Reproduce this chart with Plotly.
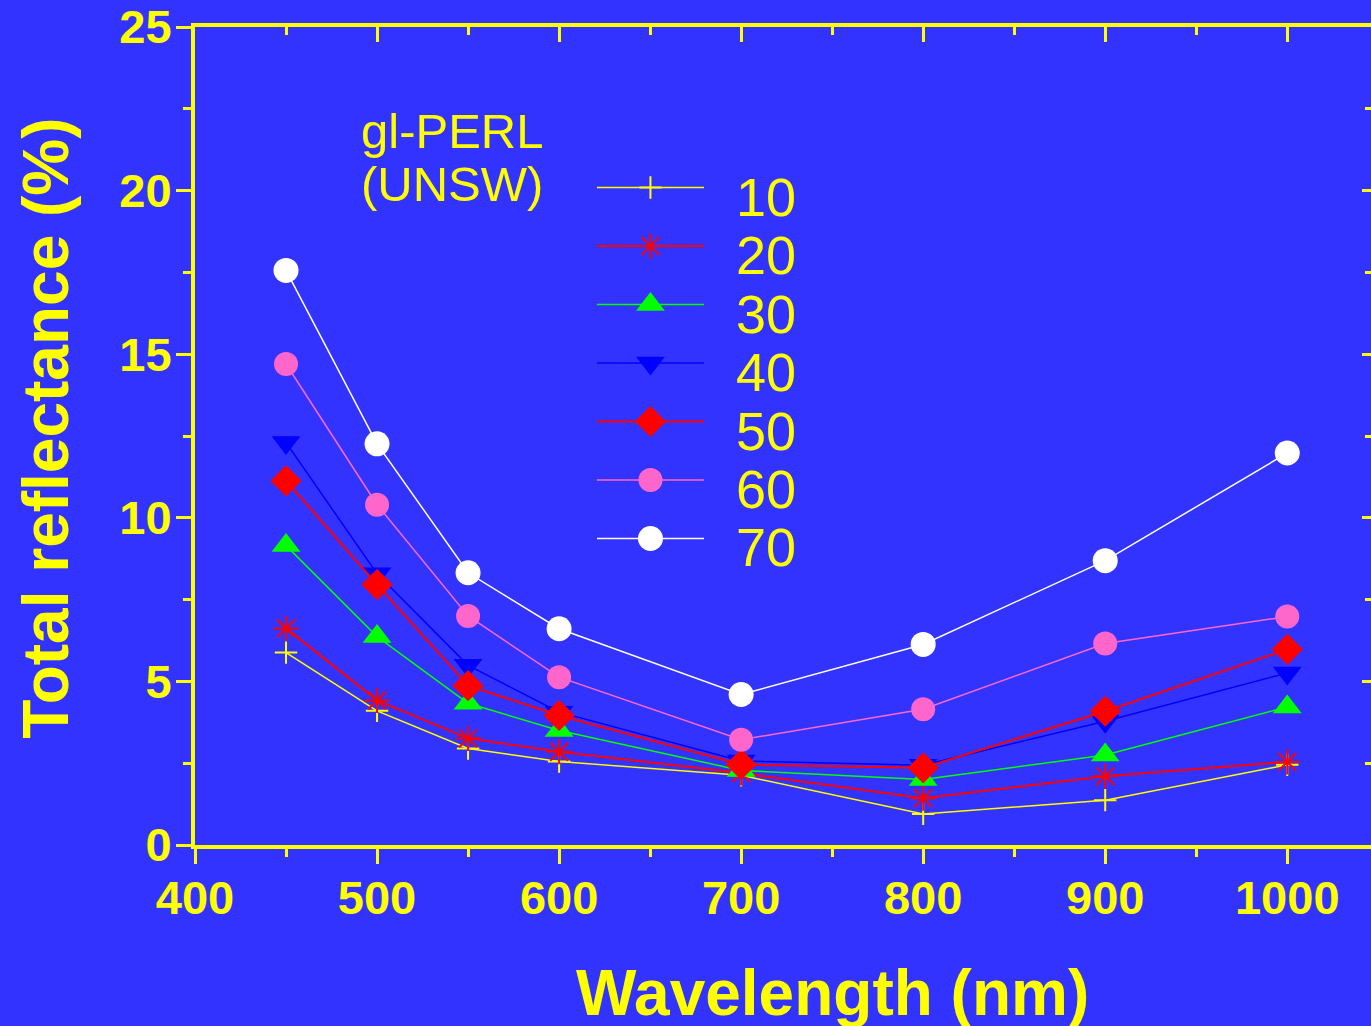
import plotly.graph_objects as go

# ---------------- data ----------------
wavelength = [450, 500, 550, 600, 700, 800, 900, 1000]
r10 = [5.88, 4.10, 2.95, 2.55, 2.13, 0.95, 1.37, 2.45]
r20 = [6.62, 4.42, 3.26, 2.85, 2.20, 1.43, 2.10, 2.54]
r30 = [9.15, 6.37, 4.33, 3.50, 2.28, 2.00, 2.75, 4.22]
r40 = [12.30, 8.29, 5.49, 4.06, 2.57, 2.44, 3.78, 5.26]
r50 = [11.13, 7.96, 4.87, 3.96, 2.46, 2.36, 4.09, 5.98]
r60 = [14.70, 10.40, 7.00, 5.13, 3.22, 4.15, 6.16, 6.98]
r70 = [17.56, 12.26, 8.32, 6.61, 4.60, 6.13, 8.69, 11.98]
series_labels = ["10", "20", "30", "40", "50", "60", "70"]
x_tick_vals = [400, 500, 600, 700, 800, 900, 1000]
y_tick_vals = [0, 5, 10, 15, 20, 25]
legend_title = ["gl-PERL", "(UNSW)"]
x_title = "Wavelength (nm)"
y_title = "Total reflectance (%)"

# ---------------- styles ----------------
BG = "#3333FF"
YEL = "#FFFF00"
FONT = "Liberation Sans"
series = [r10, r20, r30, r40, r50, r60, r70]
colors = ["#FFFF00", "#FF0000", "#00FF00", "#0000FF", "#FF0000", "#FF66CC", "#FFFFFF"]
symbols = ["cross-thin-open", "asterisk-open", "triangle-up", "triangle-down",
           "diamond", "circle", "circle"]
sizes = [16, 21, 25, 25, 24, 24, 25]
line_w = [1.5, 2, 1.5, 1.5, 2, 1.5, 1.5]

fig = go.Figure()

for ys, c, s, sz, lw in zip(series, colors, symbols, sizes, line_w):
    open_sym = s.endswith("-open")
    fig.add_trace(go.Scatter(
        x=wavelength, y=ys, mode="lines+markers",
        line=dict(color=c, width=lw),
        marker=dict(symbol=s, size=sz, color=c, opacity=1,
                    line=dict(color=c, width=2 if open_sym else 0)),
        showlegend=False, hoverinfo="skip"))

# helper so the mirrored top/right axes are drawn
fig.add_trace(go.Scatter(x=wavelength, y=r10, xaxis="x2", yaxis="y2", mode="lines",
                         line=dict(width=0, color=BG), opacity=0,
                         showlegend=False, hoverinfo="skip"))

# ---------------- custom legend (in a hidden 0..1 overlay axis) ----------------
leg_x0, leg_x1, leg_xm = 0.3418, 0.4328, 0.3873
leg_y0, leg_dy = 0.8037, 0.0715
for i, (lab, c, s, sz, lw) in enumerate(zip(series_labels, colors, symbols, sizes, line_w)):
    yy = leg_y0 - i * leg_dy
    open_sym = s.endswith("-open")
    fig.add_trace(go.Scatter(
        x=[leg_x0, leg_x1], y=[yy, yy], mode="lines",
        xaxis="x3", yaxis="y3", line=dict(color=c, width=lw),
        showlegend=False, hoverinfo="skip"))
    fig.add_trace(go.Scatter(
        x=[leg_xm], y=[yy], mode="markers",
        xaxis="x3", yaxis="y3",
        marker=dict(symbol=s, size=sz, color=c, opacity=1,
                    line=dict(color=c, width=2 if open_sym else 0)),
        showlegend=False, hoverinfo="skip"))
    fig.add_annotation(x=0.4583, y=yy - 0.011, xref="paper", yref="paper",
                       text=lab, showarrow=False, xanchor="left", yanchor="middle",
                       font=dict(family=FONT, size=54, color=YEL))

fig.add_annotation(x=0.1398, y=0.873, xref="paper", yref="paper", text=legend_title[0],
                   showarrow=False, xanchor="left", yanchor="middle",
                   font=dict(family=FONT, size=49, color=YEL))
fig.add_annotation(x=0.1398, y=0.8079, xref="paper", yref="paper", text=legend_title[1],
                   showarrow=False, xanchor="left", yanchor="middle",
                   font=dict(family=FONT, size=49, color=YEL))

# axis titles
fig.add_annotation(x=0.5425, y=-0.1805, xref="paper", yref="paper", text=x_title,
                   showarrow=False, xanchor="center", yanchor="middle",
                   font=dict(family=FONT, size=64, color=YEL, weight="bold"))
fig.add_annotation(x=-0.127, y=0.5098, xref="paper", yref="paper", text=y_title,
                   showarrow=False, xanchor="center", yanchor="middle", textangle=-90,
                   font=dict(family=FONT, size=64, color=YEL, weight="bold"))

XR = [400, 1046]
YR = [0, 25]
tickfont = dict(family=FONT, size=47, color=YEL, weight="bold")

fig.update_layout(
    width=1371, height=1026,
    margin=dict(l=195, r=0, t=25, b=181),
    paper_bgcolor=BG, plot_bgcolor=BG,
    showlegend=False,
    xaxis=dict(range=XR, tickvals=x_tick_vals, showgrid=False, zeroline=False,
               showline=True, linecolor=YEL, linewidth=4,
               ticks="outside", ticklen=15, tickwidth=3, tickcolor=YEL,
               tickfont=tickfont, ticklabelstandoff=-6, ticklabeloverflow="allow",
               minor=dict(dtick=50, tick0=400, ticks="outside", ticklen=8,
                          tickwidth=3, tickcolor=YEL, showgrid=False)),
    yaxis=dict(range=YR, tickvals=y_tick_vals, showgrid=False, zeroline=False,
               showline=True, linecolor=YEL, linewidth=4,
               ticks="outside", ticklen=15, tickwidth=3, tickcolor=YEL,
               tickfont=tickfont, ticklabelstandoff=-5, ticklabeloverflow="allow",
               minor=dict(dtick=2.5, tick0=0, ticks="outside", ticklen=8,
                          tickwidth=3, tickcolor=YEL, showgrid=False)),
    xaxis2=dict(range=XR, overlaying="x", side="top", anchor="y",
                tickvals=x_tick_vals, showticklabels=False, showgrid=False,
                zeroline=False, showline=True, linecolor=YEL, linewidth=4,
                ticks="inside", ticklen=15, tickwidth=3, tickcolor=YEL,
                minor=dict(dtick=50, tick0=400, ticks="inside", ticklen=8,
                           tickwidth=3, tickcolor=YEL, showgrid=False)),
    yaxis2=dict(range=YR, overlaying="y", side="right", anchor="x",
                tickvals=y_tick_vals, showticklabels=False, showgrid=False,
                zeroline=False, showline=False,
                ticks="inside", ticklen=9, tickwidth=3, tickcolor=YEL,
                minor=dict(dtick=2.5, tick0=0, ticks="inside", ticklen=6,
                           tickwidth=3, tickcolor=YEL, showgrid=False)),
    xaxis3=dict(range=[0, 1], overlaying="x", visible=False, anchor="y3"),
    yaxis3=dict(range=[0, 1], overlaying="y", visible=False, anchor="x3"),
)

fig.write_html("out.html",
               config={"displayModeBar": False},
               post_script="document.body.style.margin='0';document.body.style.background='" + BG + "';")
